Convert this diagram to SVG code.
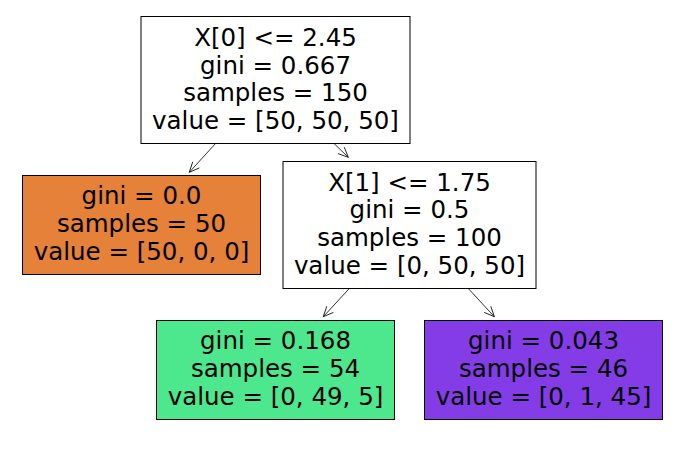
<svg xmlns="http://www.w3.org/2000/svg" width="683" height="449" viewBox="0 0 683 449">
<style>
.box{stroke:#000;stroke-width:1}
text{font-family:"DejaVu Sans",sans-serif;font-size:24.5px;fill:#000;text-anchor:middle}
.edge{stroke:#000;stroke-width:0.8;fill:none}
</style>
<defs>
<marker id="ah" markerUnits="userSpaceOnUse" markerWidth="14" markerHeight="14" viewBox="-12 -7 14 14" refX="0" refY="0" orient="auto">
<path d="M-10,-4.5 L0,0 L-10,4.5" fill="none" stroke="#000" stroke-width="0.8"/>
</marker>
</defs>
<rect width="683" height="449" fill="#fff"/>
<g id="connectors">
<line class="edge" x1="215.5" y1="143.5" x2="189.3" y2="172.3" marker-end="url(#ah)"/>
<line class="edge" x1="334" y1="143.5" x2="348.3" y2="157.3" marker-end="url(#ah)"/>
<line class="edge" x1="349.3" y1="288.5" x2="323.3" y2="316.7" marker-end="url(#ah)"/>
<line class="edge" x1="468.3" y1="288.5" x2="494.3" y2="316.7" marker-end="url(#ah)"/>
</g>
<g id="node0">
<rect class="box" x="141" y="16.5" width="269" height="127" fill="#ffffff"/>
<text x="275.5" y="46">X[0] &lt;= 2.45</text>
<text x="275.5" y="73.5">gini = 0.667</text>
<text x="275.5" y="101">samples = 150</text>
<text x="275.5" y="128.5">value = [50, 50, 50]</text>
</g>
<g id="node1">
<rect class="box" x="22.5" y="175.5" width="238" height="99" fill="#e58139"/>
<text x="141.5" y="204">gini = 0.0</text>
<text x="141.5" y="231.8">samples = 50</text>
<text x="141.5" y="259.5">value = [50, 0, 0]</text>
</g>
<g id="node2">
<rect class="box" x="283" y="161.5" width="253" height="127" fill="#ffffff"/>
<text x="409.5" y="190.5">X[1] &lt;= 1.75</text>
<text x="409.5" y="218.2">gini = 0.5</text>
<text x="409.5" y="245.9">samples = 100</text>
<text x="409.5" y="273.6">value = [0, 50, 50]</text>
</g>
<g id="node3">
<rect class="box" x="156.5" y="320.5" width="238" height="99" fill="#4de88e"/>
<text x="275.5" y="348.8">gini = 0.168</text>
<text x="275.5" y="376.7">samples = 54</text>
<text x="275.5" y="404.6">value = [0, 49, 5]</text>
</g>
<g id="node4">
<rect class="box" x="424.5" y="320.5" width="238" height="99" fill="#843de6"/>
<text x="543.5" y="348.8">gini = 0.043</text>
<text x="543.5" y="376.7">samples = 46</text>
<text x="543.5" y="404.6">value = [0, 1, 45]</text>
</g>
</svg>
